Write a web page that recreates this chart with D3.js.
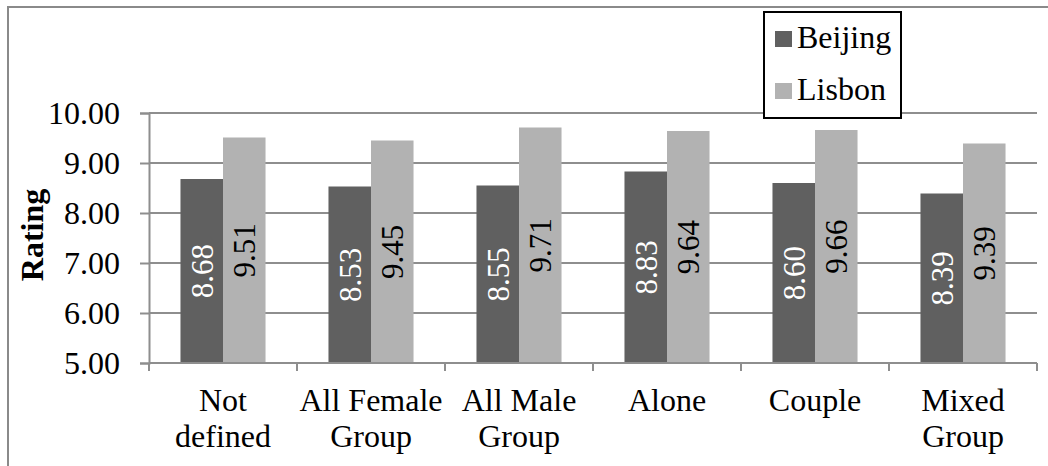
<!DOCTYPE html>
<html>
<head>
<meta charset="utf-8">
<script src="https://cdn.jsdelivr.net/npm/d3@7/dist/d3.min.js"></script>
<style>
  html, body { margin: 0; padding: 0; background: #fff; }
  svg { display: block; }
  svg text { font-family: "Liberation Serif", "Times New Roman", Times, "DejaVu Serif", serif; }
</style>
</head>
<body>
<svg id="chart" width="1048" height="466"></svg>
<script>
// Ratings by group type, two cities
const categories = [["Not", "defined"], ["All Female", "Group"], ["All Male", "Group"], ["Alone"], ["Couple"], ["Mixed", "Group"]];
const seriesNames = ["Beijing", "Lisbon"];
const beijing = [8.68, 8.53, 8.55, 8.83, 8.60, 8.39];
const lisbon = [9.51, 9.45, 9.71, 9.64, 9.66, 9.39];
const yTicks = [5, 6, 7, 8, 9, 10];

const colors = { Beijing: "#606060", Lisbon: "#b2b2b2" };
const gridColor = "#8e8e8e";
const serif = '"Liberation Serif", "Times New Roman", Times, "DejaVu Serif", serif';

const svg = d3.select("#chart");

// outer frame (top and left edges visible)
svg.append("path")
  .attr("d", "M8,466 L8,7 L1048,7")
  .attr("fill", "none").attr("stroke", "#8a8a8a").attr("stroke-width", 2);

const plot = { left: 149, right: 1037, top: 113, bottom: 363 };

const x = d3.scaleBand()
  .domain(d3.range(categories.length))
  .range([plot.left, plot.right])
  .paddingInner(0).paddingOuter(0);

const xs = d3.scaleBand()
  .domain(seriesNames)
  .range([0, x.bandwidth()])
  .paddingInner(0).paddingOuter(0.74);

const y = d3.scaleLinear().domain([5, 10]).range([plot.bottom, plot.top]);

// horizontal gridlines
svg.append("g").selectAll("line")
  .data(yTicks.slice(1))
  .join("line")
  .attr("x1", plot.left).attr("x2", plot.right)
  .attr("y1", d => y(d)).attr("y2", d => y(d))
  .attr("stroke", gridColor).attr("stroke-width", 2);

// y axis
const yAxis = svg.append("g")
  .attr("transform", `translate(${plot.left},0)`)
  .call(d3.axisLeft(y).tickValues(yTicks).tickFormat(d3.format(".2f")).tickSize(9).tickPadding(20));
yAxis.attr("font-family", serif);
yAxis.select(".domain").attr("stroke", gridColor).attr("stroke-width", 2);
yAxis.selectAll(".tick line").attr("stroke", gridColor).attr("stroke-width", 2);
yAxis.selectAll(".tick text")
  .style("font-family", serif).attr("font-size", 32).attr("fill", "#000")
  .attr("dy", "0.33em");

// bars
const rows = categories.map((c, i) => ({ i, values: [
  { key: "Beijing", v: beijing[i] },
  { key: "Lisbon", v: lisbon[i] }
]}));

const groups = svg.append("g").selectAll("g")
  .data(rows)
  .join("g")
  .attr("transform", d => `translate(${x(d.i)},0)`);

groups.selectAll("rect")
  .data(d => d.values)
  .join("rect")
  .attr("x", d => xs(d.key))
  .attr("width", xs.bandwidth())
  .attr("y", d => y(d.v))
  .attr("height", d => y(5) - y(d.v))
  .attr("fill", d => colors[d.key]);

// value labels, rotated, centred in each bar
groups.selectAll("text")
  .data(d => d.values)
  .join("text")
  .attr("transform", d => `translate(${xs(d.key) + xs.bandwidth() / 2},${(y(d.v) + y(5)) / 2}) rotate(-90)`)
  .attr("text-anchor", "middle")
  .attr("dy", "0.35em")
  .style("font-family", serif)
  .attr("font-size", 31)
  .attr("fill", d => d.key === "Beijing" ? "#ffffff" : "#000000")
  .text(d => d.v.toFixed(2));

// x axis line and category separators
svg.append("line")
  .attr("x1", plot.left).attr("x2", plot.right)
  .attr("y1", plot.bottom).attr("y2", plot.bottom)
  .attr("stroke", gridColor).attr("stroke-width", 2);

const sepPositions = d3.range(categories.length + 1).map(i => i < categories.length ? x(i) : plot.right);
svg.append("g").selectAll("line")
  .data(sepPositions)
  .join("line")
  .attr("x1", d => d).attr("x2", d => d)
  .attr("y1", plot.bottom).attr("y2", plot.bottom + 8)
  .attr("stroke", gridColor).attr("stroke-width", 2);

// category labels
const catText = svg.append("g").selectAll("text")
  .data(categories.map((c, i) => ({ c, i })))
  .join("text")
  .attr("text-anchor", "middle")
  .style("font-family", serif)
  .attr("font-size", 32)
  .attr("fill", "#000")
  .attr("transform", d => `translate(${x(d.i) + x.bandwidth() / 2},410.5)`);
catText.selectAll("tspan")
  .data(d => d.c)
  .join("tspan")
  .attr("x", 0)
  .attr("y", (d, j) => j * 36.5)
  .text(d => d);

// y axis title
svg.append("text")
  .attr("transform", "translate(43,235) rotate(-90)")
  .attr("text-anchor", "middle")
  .style("font-family", serif)
  .attr("font-size", 32)
  .attr("font-weight", "bold")
  .attr("fill", "#000")
  .text("Rating");

// legend
const legend = svg.append("g");
legend.append("rect")
  .attr("x", 764).attr("y", 12).attr("width", 137).attr("height", 106)
  .attr("fill", "#fff").attr("stroke", "#000").attr("stroke-width", 2);
const items = legend.selectAll("g.item")
  .data(seriesNames)
  .join("g")
  .attr("class", "item")
  .attr("transform", (d, i) => `translate(775,${31 + i * 52})`);
items.append("rect")
  .attr("width", 17).attr("height", 16)
  .attr("fill", d => colors[d]);
items.append("text")
  .attr("x", 22).attr("y", 17)
  .style("font-family", serif)
  .attr("font-size", 32).attr("fill", "#000")
  .text(d => d);
</script>
</body>
</html>
